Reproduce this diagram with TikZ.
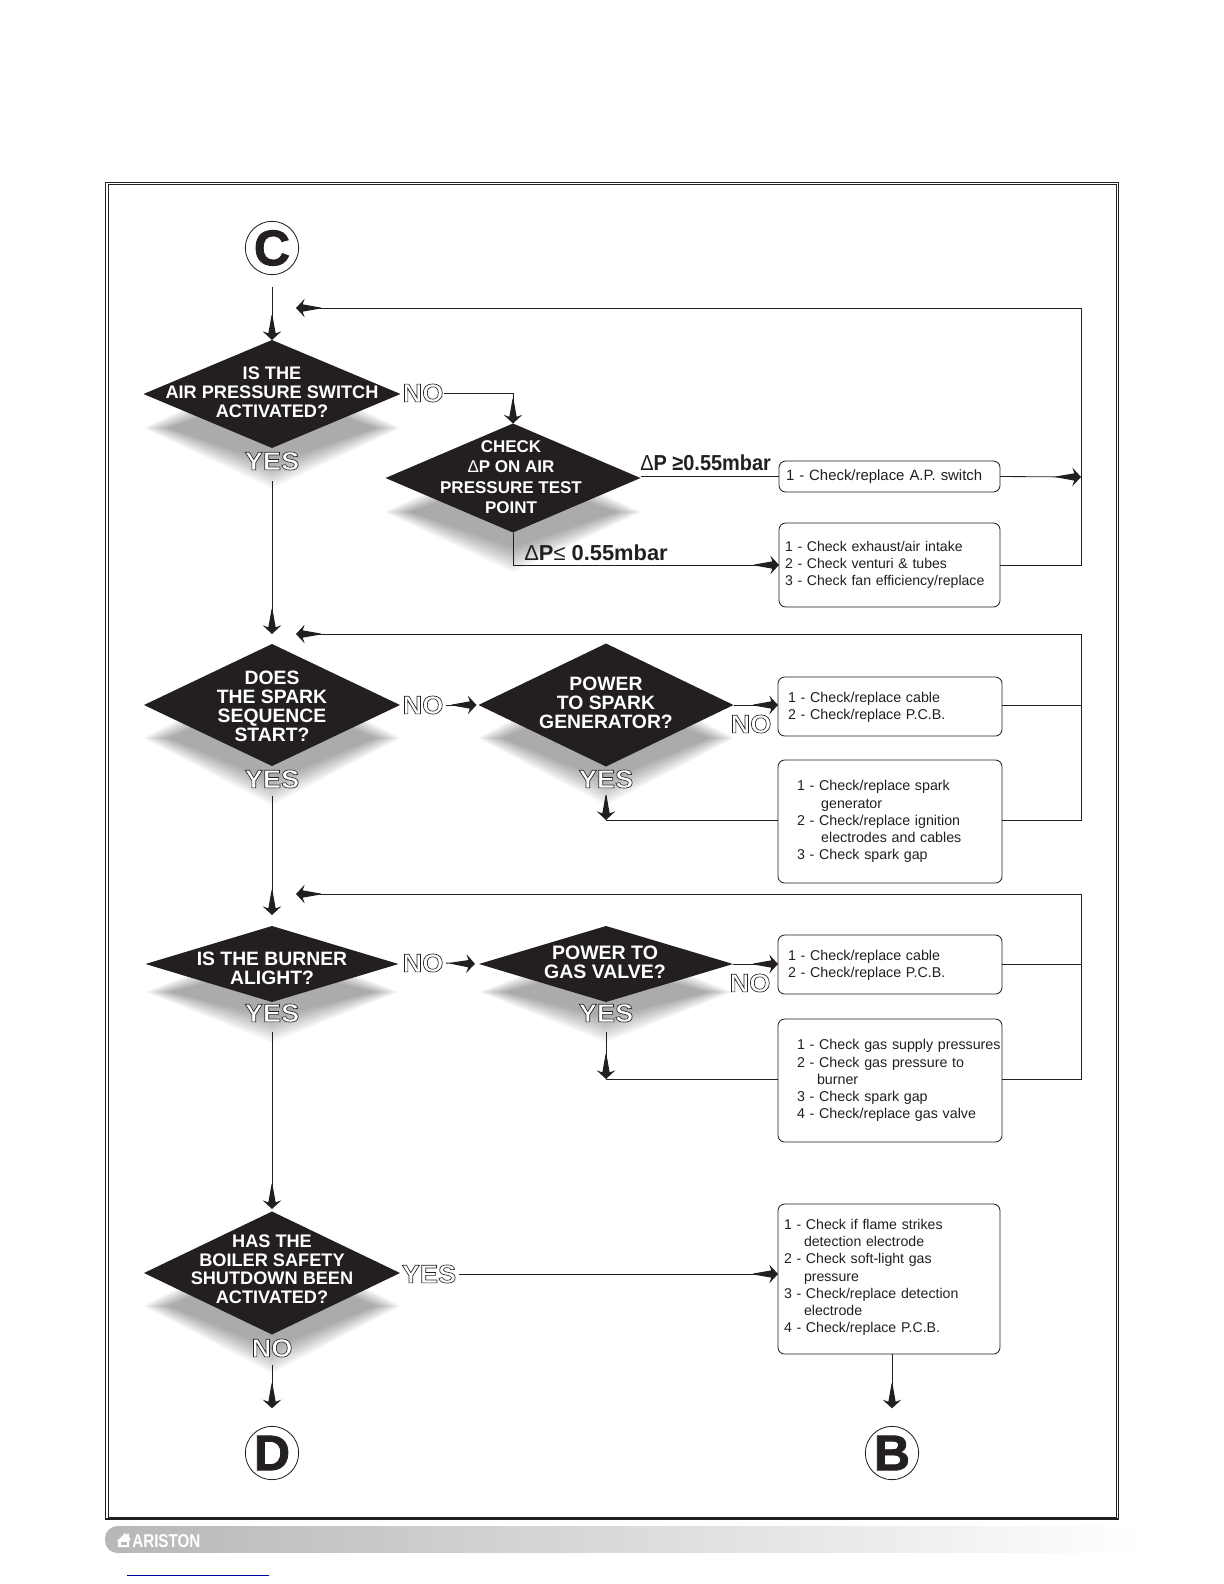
\documentclass[tikz,border=0pt]{standalone}
\usepackage{fontspec}
\usepackage{graphicx}
\usetikzlibrary{shapes.geometric,arrows.meta,calc}
\setmainfont{Liberation Sans}
\definecolor{ink}{HTML}{231F20}
\definecolor{linkblue}{HTML}{000099}
\newcommand{\outl}[1]{\scalebox{1.06}[1]{\special{pdf:code q 2 Tr 0.38 w 0.14 0.12 0.13 RG 1 g}#1\special{pdf:code Q}}}
\newcommand{\hvy}[1]{\special{pdf:code q 2 Tr 0.5 w 0.14 0.12 0.13 RG 0.14 0.12 0.13 rg}#1\special{pdf:code Q}}
\newcommand{\dlt}{{\normalfont\mdseries Δ}}
\newcommand{\upb}[1]{\\[#1]\mbox{}}
\pgfdeclarearrow{
  name=Spike,
  setup code={
    \pgfarrowssettipend{0pt}
    \pgfarrowssetlineend{-10pt}
    \pgfarrowssetvisualbackend{-15pt}
    \pgfarrowssetbackend{-15pt}
    \pgfarrowshullpoint{0pt}{0pt}
    \pgfarrowsupperhullpoint{-15pt}{0.3pt}
    \pgfarrowsupperhullpoint{-5.2pt}{5.6pt}
  },
  drawing code={
    \pgfpathmoveto{\pgfpoint{0pt}{0pt}}
    \pgfpathlineto{\pgfpoint{-5.2pt}{5.6pt}}
    \pgfpathlineto{\pgfpoint{-4pt}{2.2pt}}
    \pgfpathlineto{\pgfpoint{-15pt}{0.25pt}}
    \pgfpathlineto{\pgfpoint{-15pt}{-0.25pt}}
    \pgfpathlineto{\pgfpoint{-4pt}{-2.2pt}}
    \pgfpathlineto{\pgfpoint{-5.2pt}{-5.6pt}}
    \pgfpathclose
    \pgfusepathqfill
  }
}
\newcommand{\shad}[4]{% cx cy halfw halfh
  \begin{scope}[shift={(#1,#2)}]
  \foreach \g in {-12,-9,-6,-3,0,3,6,9,12}{
    \fill[black,opacity=0.042] ({-(#3+\g)},0) -- (0,{-(#4+\g)}) -- ({#3+\g},0) -- (0,{#4+\g}) -- cycle;
  }
  \end{scope}
}
\tikzset{
  dia/.style 2 args={diamond,fill=ink,draw=none,inner sep=0pt,outer sep=0pt,minimum width=#1*0.6pt,minimum height=#2*0.6pt},
  dtext/.style={text=white,font=\bfseries\fontsize{#1}{11.4}\selectfont,align=center,inner sep=0pt},
  yn/.style={text=white,font=\bfseries\fontsize{15.4}{16}\selectfont,inner sep=0pt},
  box/.style n args={3}{draw=ink,line width=0.5pt,rounded corners=4pt,fill=white,align=left,text=ink,
     font=\fontsize{8.55}{10.3}\selectfont,inner ysep=0pt,outer sep=0pt,
     inner xsep=#3*0.6pt,text width=(#1-2*#3)*0.6pt,minimum height=#2*0.6pt},
  lbl/.style={text=ink,font=\bfseries\fontsize{13}{14}\selectfont,inner sep=0pt},
  term/.style={circle,draw=ink,line width=0.5pt,fill=white,inner sep=0pt,outer sep=0pt,minimum size=32pt,text=ink,font=\bfseries\fontsize{30}{30}\selectfont},
  conn/.style={draw=ink,line width=0.5pt},
  arr/.style={conn,-{Spike}},
  sh/.style 2 args={shorten <=#1*0.6pt,shorten >=#2*0.6pt}
}
\begin{document}
\begin{tikzpicture}[x=0.6pt,y=-0.6pt]
\useasboundingbox (0,0) rectangle (1224,1584);
% frame
\draw[ink,line width=0.5pt] (105.5,182) rectangle (1118.5,1519.5);
\draw[ink,line width=0.5pt] (108,184.5) rectangle (1116,1517.5);
\draw[ink,line width=1.1pt] (105.5,1518.5) -- (1118.5,1518.5);
% footer band
\fill[black!28,rounded corners=7.5pt] (105,1526) rectangle (135,1553);
\foreach \i in {0,...,127}{
  \pgfmathsetmacro{\w}{72+0.22*\i}
  \definecolor{stripc}{gray}{\fpeval{min(1,\w/100)}}
  \fill[stripc] ({118+8*\i},1526) rectangle ({127+8*\i},1553);
}
\fill[white] (117,1541) -- (125,1533) -- (127,1535) -- (127,1533.5) -- (129,1533.5) -- (129,1537) -- (131,1540) -- (129,1540) -- (129,1547) -- (118,1547) -- (118,1541) -- cycle;
\fill[black!28] (120.5,1541.5) rectangle (126.5,1545);
\node[text=white,font=\bfseries\fontsize{10.6}{11}\selectfont,inner sep=0pt,anchor=west] (brand) at (132,1541) {\scalebox{0.86}[1.05]{ARISTON}};
\draw[linkblue,line width=0.6pt] (127,1575) -- (269,1575);
% shadows
\shad{272}{428}{116}{48}
\shad{513}{512}{116}{48}
\shad{272}{738}{116}{55}
\shad{606}{738}{116}{55}
\shad{272}{992}{114}{38}
\shad{606}{992}{114}{38}
\shad{272}{1306}{116}{55}
% diamonds
\node[dia={257}{108}] (d1) at (272,394) {};
\node[dia={255}{109}] (d2) at (513,478) {};
\node[dia={256}{122}] (d3) at (272,705) {};
\node[dia={255}{123}] (d4) at (606,705) {};
\node[dia={253}{76}] (d5) at (272,964) {};
\node[dia={254}{76}] (d6) at (606,964) {};
\node[dia={256}{123}] (d7) at (272,1273) {};
\node[dtext=10.9] (d1t) at (272,392) {IS THE\\AIR PRESSURE SWITCH\\ACTIVATED?};
\node[dtext=10.2,font=\bfseries\fontsize{10.2}{12.3}\selectfont] (d2t) at (511,477) {CHECK\\\dlt P ON AIR\\PRESSURE TEST\\POINT};
\node[dtext=11.6] (d3t) at (272,706) {DOES\\THE SPARK\\SEQUENCE\\START?};
\node[dtext=11.6] (d4t) at (606,703) {POWER\\TO SPARK\\GENERATOR?};
\node[dtext=11.6] (d5t) at (272,968) {IS THE BURNER\\ALIGHT?};
\node[dtext=11.7] (d6t) at (605,962) {POWER TO\\GAS VALVE?};
\node[dtext=10.9,font=\bfseries\fontsize{10.9}{11.1}\selectfont] (d7t) at (272,1269) {HAS THE\\BOILER SAFETY\\SHUTDOWN BEEN\\ACTIVATED?};
% terminals
\node[term] (cC) at (272,248) {\raisebox{-1.2pt}{\hvy{C}}};
\node[term] (cD) at (272,1453) {\raisebox{-1.2pt}{\hvy{D}}};
\node[term] (cB) at (892,1453) {\raisebox{-1.2pt}{\hvy{B}}};
% yes / no
\node[yn] (n1) at (423,393) {\outl{NO}};
\node[yn] (y1) at (272,461) {\outl{YES}};
\node[yn] (n3) at (423,705) {\outl{NO}};
\node[yn] (y3) at (272,779) {\outl{YES}};
\node[yn] (n4) at (751,724) {\outl{NO}};
\node[yn] (y4) at (606,779) {\outl{YES}};
\node[yn] (n5) at (423,963) {\outl{NO}};
\node[yn] (y5) at (272,1013) {\outl{YES}};
\node[yn] (n6) at (750,983) {\outl{NO}};
\node[yn] (y6) at (606,1013) {\outl{YES}};
\node[yn] (y7) at (429,1274) {\outl{YES}};
\node[yn] (n7) at (272,1348) {\outl{NO}};
% delta labels
\node[lbl,anchor=west] (dpa) at (640,463) {\scalebox{0.92}[1]{\dlt P ≥0.55mbar}};
\node[lbl,anchor=west] (dpb) at (524,553) {\scalebox{1.01}[1]{\dlt P{\mdseries ≤} 0.55mbar}};
% boxes
\node[box={221}{31}{7},font=\fontsize{8.95}{10.3}\selectfont] (ba) at (889.5,476.5) {1 - Check/replace A.P. switch};
\node[box={221}{84}{6},font=\fontsize{8.45}{10.3}\selectfont] (bb) at (889.5,565) {1 - Check exhaust/air intake\\2 - Check venturi \& tubes\\\mbox{3 - Check fan efficiency/replace}\upb{-8pt}};
\node[box={224}{59}{10}] (bc) at (890,706.5) {1 - Check/replace cable\\2 - Check/replace P.C.B.\upb{-9pt}};
\node[box={224}{123}{19}] (bd) at (890,821.5) {1 - Check/replace spark\\\hspace*{14.5pt}generator\\2 - Check/replace ignition\\\hspace*{14.5pt}electrodes and cables\\3 - Check spark gap\upb{-8.5pt}};
\node[box={224}{59}{10}] (be) at (890,964.5) {1 - Check/replace cable\\2 - Check/replace P.C.B.\upb{-9pt}};
\node[box={224}{123}{19}] (bf) at (890,1080.5) {\mbox{1 - Check gas supply pressures}\\2 - Check gas pressure to\\\hspace*{12pt}burner\\3 - Check spark gap\\4 - Check/replace gas valve\upb{-8.5pt}};
\node[box={222}{150}{6},font=\fontsize{8.48}{10.3}\selectfont] (bg) at (889,1279) {1 - Check if flame strikes\\\hspace*{12pt}detection electrode\\2 - Check soft-light gas\\\hspace*{12pt}pressure\\3 - Check/replace detection\\\hspace*{12pt}electrode\\4 - Check/replace P.C.B.\upb{-6.7pt}};
% free ends
\coordinate (r1) at (296,308);
\coordinate (r2) at (296,634);
\coordinate (r3) at (296,894);
\coordinate (railA) at (1081,477);
\coordinate (a1) at (272,634);
\coordinate (a3) at (272,915);
\coordinate (a5) at (272,1209);
\coordinate (t4) at (606,820);
\coordinate (t6) at (606,1079);
% connectors row 1
\draw[arr,sh={12}{0}] (cC.south) -- (d1.north);
\draw[arr] (n1.east) -| (d2.north);
\draw[arr,sh={11}{0}] (y1.south) -- (a1);
\draw[conn] (d2.east |- ba.west) -- (ba.west);
\draw[arr] (ba.east) -- (railA);
\draw[arr] (d2.south) |- (bb.west);
\draw[arr] (bb.east) -- (1081.5,565) |- (r1);
% row 2
\draw[arr,sh={2}{2}] (n3.east) -- (d4.west);
\draw[arr] (d4.east) -- (d4.east -| bc.west);
\draw[conn] (bc.east |- d4.east) -- (1081.5,705);
\draw[arr] (bd.east |- t4) -- (1081.5,820) |- (r2);
\draw[conn] (bd.west |- t4) -- (t4);
\draw[arr,sh={8}{0}] (y4.south) -- (t4);
\draw[arr,sh={8}{0}] (y3.south) -- (a3);
% row 3
\draw[arr,sh={2}{4}] (n5.east) -- (d6.west);
\draw[arr] (d6.east) -- (d6.east -| be.west);
\draw[conn] (be.east |- d6.east) -- (1081.5,964);
\draw[arr] (bf.east |- t6) -- (1081.5,1079) |- (r3);
\draw[conn] (bf.west |- t6) -- (t6);
\draw[arr,sh={10}{0}] (y6.south) -- (t6);
\draw[arr,sh={10}{0}] (y5.south) -- (a5);
% row 4
\draw[arr,sh={2}{0}] (y7.east) -- (y7.east -| bg.west);
\draw[arr,sh={0}{18}] (bg.south -| cB) -- (cB.north);
\draw[arr,sh={8}{18}] (n7.south) -- (cD.north);
\end{tikzpicture}
\end{document}
